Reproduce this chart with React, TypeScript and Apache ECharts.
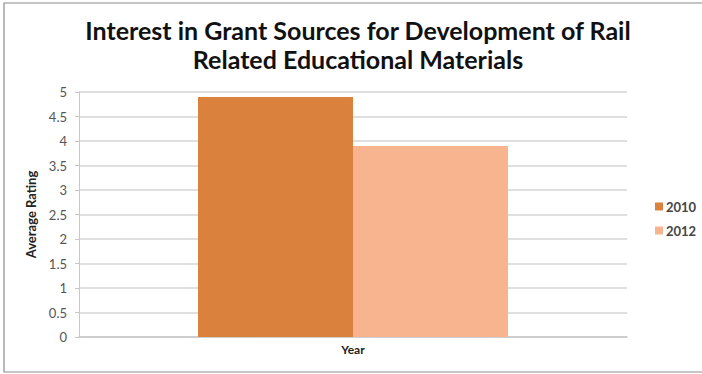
import React, { useEffect, useRef } from "react";
import * as echarts from "echarts";

const categories = ["Year"];
const seriesNames = ["2010", "2012"];
const values2010 = [4.9];
const values2012 = [3.9];
const yTicks = ["0", "0.5", "1", "1.5", "2", "2.5", "3", "3.5", "4", "4.5", "5"];

const FONT = "Lato, 'Open Sans', sans-serif";

export default function App() {
  const ref = useRef<HTMLDivElement>(null);
  useEffect(() => {
    document.body.style.margin = "0";
    const chart = echarts.init(ref.current!, null, { renderer: "svg" });
    chart.setOption({
      animation: false,
      backgroundColor: "#ffffff",
      textStyle: { fontFamily: FONT },
      title: {
        text: "Interest in Grant Sources for Development of Rail\nRelated Educational Materials",
        left: 353,
        top: 10,
        textAlign: "center",
        textStyle: { fontFamily: FONT, fontWeight: "bold", fontSize: 25, color: "#111", lineHeight: 29 },
      },
      graphic: [
        {
          type: "rect",
          shape: { x: 4, y: 3, width: 720, height: 369 },
          style: { fill: "none", stroke: "#8c8c8c", lineWidth: 1.2 },
          silent: true,
          z: -1,
        },
      ],
      legend: {
        orient: "vertical",
        left: 650,
        top: 195,
        itemWidth: 8,
        itemHeight: 8,
        itemGap: 11,
        icon: "rect",
        data: seriesNames,
        textStyle: { fontFamily: FONT, fontSize: 13, fontWeight: "bold", color: "#444", padding: [0, 0, 0, -2] },
      },
      grid: { left: 79, right: 75, top: 92, bottom: 37, containLabel: false },
      xAxis: {
        type: "category",
        data: categories,
        name: "Year",
        nameLocation: "middle",
        nameGap: 6,
        nameTextStyle: { fontFamily: FONT, fontWeight: "bold", fontSize: 12, color: "#222" },
        axisLine: { lineStyle: { color: "#c8c8c8", width: 1.5 } },
        axisTick: { show: false },
        axisLabel: { show: false },
      },
      yAxis: {
        type: "value",
        min: 0,
        max: 5,
        interval: 0.5,
        name: "Average Rating",
        nameLocation: "middle",
        nameGap: 37,
        nameRotate: 90,
        nameTextStyle: { fontFamily: FONT, fontWeight: "bold", fontSize: 13, color: "#222" },
        axisLine: { show: true, lineStyle: { color: "#c8c8c8", width: 1 } },
        axisTick: { show: true, length: 4, lineStyle: { color: "#c8c8c8" } },
        axisLabel: {
          fontFamily: FONT,
          fontSize: 13,
          color: "#555",
          margin: 12,
          formatter: (v: number) => yTicks[Math.round(v * 2)] ?? String(v),
        },
        splitLine: { lineStyle: { color: "#d4d4d4", width: 1.5 } },
      },
      series: [
        {
          name: seriesNames[0],
          type: "bar",
          data: values2010,
          barWidth: 155,
          barGap: "0%",
          itemStyle: { color: "#DA823D" },
        },
        {
          name: seriesNames[1],
          type: "bar",
          data: values2012,
          barWidth: 155,
          barGap: "0%",
          itemStyle: { color: "#F8B48E" },
        },
      ],
    });
    return () => chart.dispose();
  }, []);
  return <div ref={ref} style={{ width: 702, height: 374, position: "absolute", left: 0, top: 0 }} />;
}
